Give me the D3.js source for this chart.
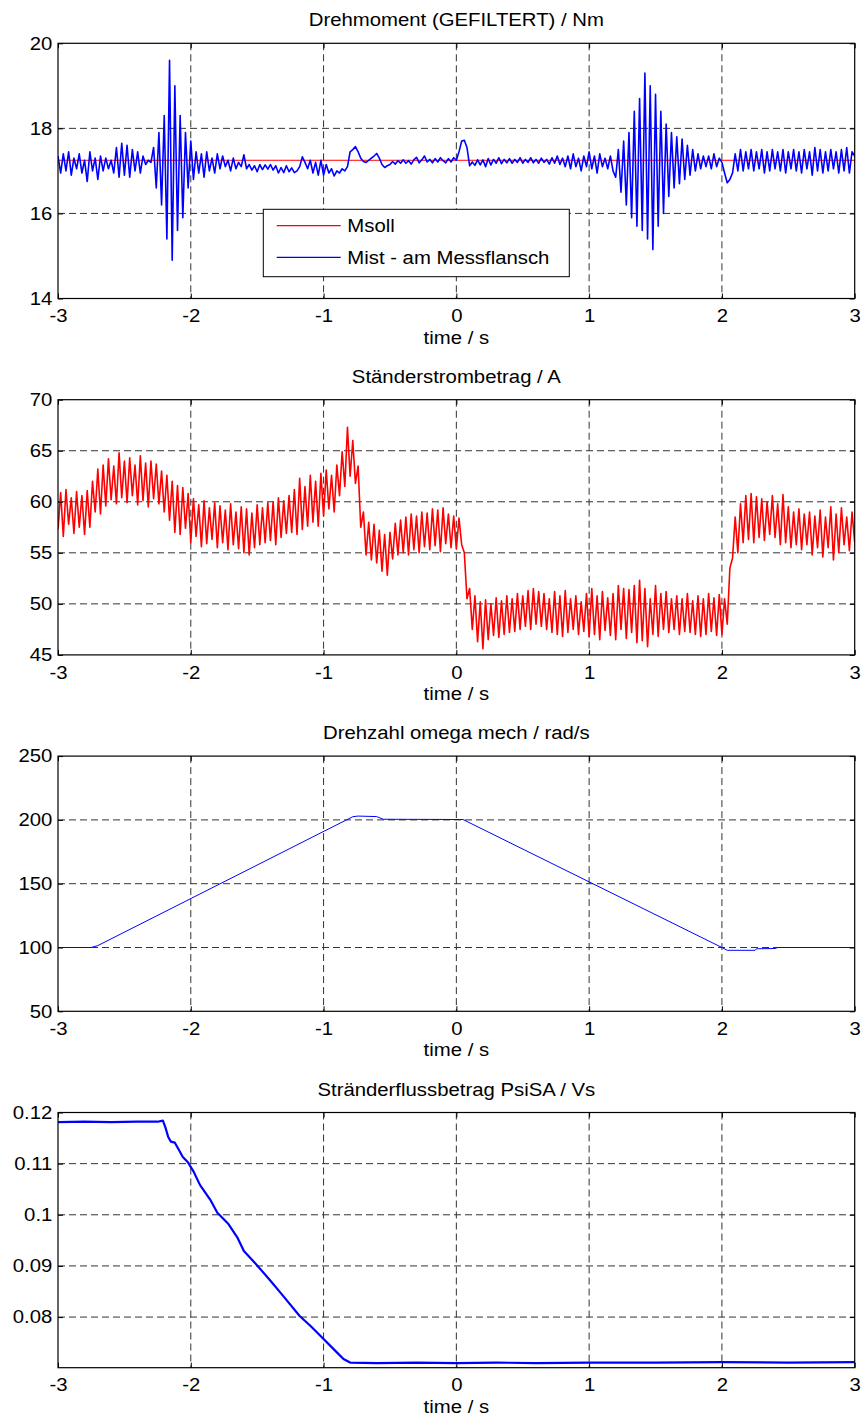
<!DOCTYPE html>
<html>
<head>
<meta charset="utf-8">
<script src="https://cdn.jsdelivr.net/npm/d3@7"></script>
<style>
  html, body { margin: 0; padding: 0; background: #fff; }
  svg { display: block; font-family: "Liberation Sans", Arial, Helvetica, sans-serif; }
</style>
</head>
<body>
<svg id="fig" width="864" height="1424"></svg>
<script>
// ---- recorded channels (sample interval 20 ms, starting at t = -3 s) ----
const tStart = -3;
const tStep = 0.02;
const timeTicks = [-3, -2, -1, 0, 1, 2, 3];

// torque set point (Msoll) / Nm
const torqueSetpoint = 17.25;

// measured torque at the flange (Mist) / Nm, one row = 0.2 s
const torqueMeasured = [
  17.35, 16.95, 17.40, 17.00, 17.45, 16.90, 17.30, 17.05, 17.40, 16.95,
  17.25, 16.75, 17.45, 17.00, 17.30, 16.80, 17.35, 17.00, 17.30, 17.05,
  17.25, 16.95, 17.55, 16.85, 17.65, 16.90, 17.60, 16.85, 17.50, 17.00,
  17.45, 16.95, 17.35, 17.15, 17.25, 17.20, 17.55, 16.60, 17.90, 16.20,
  18.30, 15.40, 19.60, 14.90, 19.00, 15.60, 18.30, 15.90, 17.90, 16.60,
  17.70, 16.80, 17.45, 16.95, 17.40, 16.85, 17.45, 17.00, 17.30, 16.95,
  17.40, 17.05, 17.35, 17.10, 17.25, 17.00, 17.30, 17.05, 17.20, 17.10,
  17.38, 17.05, 17.15, 17.02, 17.12, 16.98, 17.15, 17.03, 17.14, 17.04,
  17.15, 17.02, 17.12, 16.95, 17.08, 16.96, 17.12, 16.98, 17.07, 16.96,
  17.00, 17.10, 17.33, 17.20, 17.05, 17.25, 16.95, 17.20, 16.90, 17.25,
  16.90, 17.15, 16.95, 17.05, 16.88, 17.00, 16.95, 17.05, 17.00, 17.10,
  17.45, 17.50, 17.57, 17.45, 17.30, 17.22, 17.20, 17.25, 17.30, 17.35,
  17.41, 17.30, 17.15, 17.08, 17.12, 17.15, 17.22, 17.16, 17.24, 17.18,
  17.26, 17.18, 17.24, 17.16, 17.26, 17.32, 17.19, 17.26, 17.35, 17.21,
  17.27, 17.19, 17.29, 17.21, 17.31, 17.24, 17.19, 17.29, 17.21, 17.31,
  17.25, 17.45, 17.70, 17.72, 17.55, 17.12, 17.21, 17.13, 17.26, 17.14,
  17.26, 17.10, 17.29, 17.14, 17.27, 17.18, 17.31, 17.17, 17.27, 17.19,
  17.29, 17.18, 17.27, 17.20, 17.31, 17.18, 17.27, 17.20, 17.31, 17.19,
  17.27, 17.18, 17.30, 17.20, 17.27, 17.16, 17.31, 17.18, 17.35, 17.15,
  17.30, 17.10, 17.35, 17.05, 17.40, 17.10, 17.30, 17.00, 17.35, 17.10,
  17.45, 17.05, 17.35, 16.95, 17.40, 17.10, 17.30, 17.05, 17.35, 17.00,
  16.85, 17.50, 16.50, 17.70, 16.20, 17.90, 15.90, 18.40, 15.70, 18.70,
  15.60, 19.30, 15.40, 19.00, 15.15, 18.80, 15.70, 18.40, 16.00, 18.10,
  16.40, 17.90, 16.60, 17.80, 16.70, 17.75, 16.80, 17.60, 16.90, 17.50,
  17.00, 17.40, 17.05, 17.35, 17.10, 17.35, 17.05, 17.40, 17.10, 17.30,
  17.20, 16.95, 16.72, 16.80, 16.95, 17.40, 17.00, 17.50, 17.00, 17.45,
  17.05, 17.50, 17.00, 17.45, 17.05, 17.50, 16.95, 17.45, 17.00, 17.50,
  17.05, 17.45, 17.00, 17.50, 16.95, 17.45, 17.05, 17.50, 17.00, 17.45,
  16.95, 17.50, 17.05, 17.45, 16.90, 17.55, 17.00, 17.50, 16.95, 17.45,
  17.00, 17.50, 17.05, 17.45, 16.95, 17.50, 17.00, 17.55, 16.95, 17.45,
  17.35
];

// stator current magnitude / A, one row = 0.2 s
const statorCurrent = [
  57.3, 60.9, 56.6, 61.2, 57.8, 60.4, 56.9, 61.0, 57.5, 60.6,
  56.8, 61.1, 57.5, 62.0, 59.0, 63.2, 58.8, 63.6, 59.6, 64.2,
  60.2, 63.5, 59.8, 64.8, 60.4, 64.0, 59.9, 64.3, 60.6, 63.6,
  59.7, 64.5, 60.1, 63.8, 59.5, 64.0, 60.3, 63.7, 59.8, 63.0,
  59.0, 62.6, 58.2, 62.0, 57.0, 61.6, 56.8, 61.4, 57.4, 60.8,
  56.0, 60.3, 56.6, 59.7, 55.6, 60.1, 55.9, 59.4, 56.3, 59.9,
  55.5, 59.6, 56.0, 59.2, 55.3, 59.8, 55.8, 59.0, 55.4, 59.5,
  55.0, 59.3, 54.8, 58.9, 55.5, 59.7, 55.8, 59.4, 56.0, 59.9,
  56.2, 60.0, 55.8, 60.4, 56.5, 60.1, 56.9, 60.6, 57.0, 61.2,
  56.8, 62.3, 57.3, 61.5, 57.6, 62.6, 58.0, 62.0, 57.6, 62.8,
  58.6, 63.1, 59.3, 62.6, 59.0, 63.6, 60.6, 64.9, 61.5, 67.3,
  62.5, 66.0, 61.8, 63.5, 57.5, 59.0, 54.8, 58.0, 54.3, 57.8,
  54.0, 57.2, 53.2, 56.8, 52.8, 57.0, 54.4, 57.9, 54.8, 58.2,
  55.0, 58.5, 54.8, 58.8, 55.3, 58.6, 55.0, 59.0, 55.6, 58.9,
  55.3, 59.3, 55.7, 59.2, 55.1, 59.4, 55.9, 58.8, 55.5, 58.6,
  55.4, 58.4, 55.8, 55.0, 50.5, 51.5, 47.5, 50.8, 46.3, 50.2,
  45.6, 50.4, 46.5, 50.0, 46.9, 50.6, 46.7, 50.3, 47.0, 50.8,
  47.2, 50.5, 47.3, 51.0, 47.5, 50.8, 47.8, 51.3, 47.5, 51.5,
  48.0, 51.2, 47.8, 51.0, 47.5, 50.5, 47.2, 51.2, 47.0, 50.8,
  46.8, 51.3, 47.2, 50.5, 47.5, 50.8, 47.0, 50.2, 47.3, 51.0,
  46.8, 51.5, 47.0, 50.8, 46.5, 51.2, 47.4, 50.6, 46.9, 51.0,
  46.5, 51.8, 47.5, 51.5, 46.6, 51.4, 47.2, 51.8, 46.2, 52.3,
  46.4, 51.5, 45.8, 50.5, 47.0, 51.8, 46.8, 51.0, 47.5, 51.2,
  47.2, 50.5, 47.5, 50.8, 47.0, 50.5, 47.3, 51.0, 47.2, 50.3,
  47.0, 50.8, 46.8, 50.5, 47.0, 51.0, 47.3, 50.6, 46.9, 50.9,
  47.0, 50.5, 48.0, 53.5, 54.5, 58.5, 55.0, 59.8, 56.0, 60.6,
  56.3, 60.8, 56.0, 60.5, 56.5, 60.3, 56.2, 60.0, 56.8, 60.6,
  56.5, 59.8, 55.8, 60.7, 56.0, 59.5, 55.5, 59.0, 55.8, 59.3,
  55.3, 58.8, 55.8, 59.0, 54.8, 58.6, 55.5, 59.2, 54.6, 58.5,
  55.5, 59.5, 54.3, 58.8, 55.0, 59.4, 55.8, 58.5, 55.2, 59.0,
  56.0
];

// mechanical speed omega / rad/s (breakpoints)
const speedTime  = [-3, -2.75, -2.7, -0.78, -0.74, -0.6, -0.55, 0.05, 2.0, 2.04, 2.25, 2.26, 2.4, 2.42, 3];
const speedValue = [100, 100, 101.5, 202.5, 203, 202.6, 200.5, 200.3, 100, 97.8, 97.8, 99, 99.2, 100, 100];

// stator flux magnitude PsiSA / Vs (breakpoints)
const fluxTime = [
  -3.0, -2.8, -2.6, -2.4, -2.25, -2.21, -2.19, -2.17, -2.15, -2.12,
  -2.09, -2.06, -2.02, -1.98, -1.93, -1.85, -1.8, -1.72, -1.65, -1.6,
  -1.5, -1.4, -1.3, -1.18, -1.1, -1.0, -0.9, -0.85, -0.8, -0.6,
  -0.3, 0, 0.3, 0.6, 1.0, 1.5, 2.0, 2.5, 3.0
];
const fluxValue = [
  0.1181, 0.1182, 0.1181, 0.1182, 0.1182, 0.1184, 0.1170, 0.1152, 0.1143, 0.1141,
  0.1127, 0.1113, 0.1102, 0.1085, 0.1058, 0.1028, 0.1004, 0.0983, 0.0956, 0.0929,
  0.0901, 0.0871, 0.0840, 0.0802, 0.0783, 0.0757, 0.0731, 0.0718, 0.0711, 0.0710,
  0.0711, 0.0710, 0.0711, 0.0710, 0.0711, 0.0711, 0.0712, 0.0711, 0.0712
];

// axis ticks
const torqueTicks  = [14, 16, 18, 20];
const currentTicks = [45, 50, 55, 60, 65, 70];
const speedTicks   = [50, 100, 150, 200, 250];
const fluxTicks    = [0.08, 0.09, 0.1, 0.11, 0.12];

const legendLabels = ["Msoll", "Mist - am Messflansch"];

// ---- build point lists ----
const sampled = arr => arr.map((v, i) => ({ t: tStart + i * tStep, v }));
const paired = (ts, vs) => ts.map((t, i) => ({ t, v: vs[i] }));

const panels = [
  {
    title: "Drehmoment (GEFILTERT) / Nm",
    domain: [14, 20], ticks: torqueTicks,
    series: [
      { data: [{ t: -3, v: torqueSetpoint }, { t: 3, v: torqueSetpoint }], color: "#ff0000", width: 1 },
      { data: sampled(torqueMeasured), color: "#0000ff", width: 1.6 }
    ],
    legend: true
  },
  {
    title: "Ständerstrombetrag / A",
    domain: [45, 70], ticks: currentTicks,
    series: [{ data: sampled(statorCurrent), color: "#ff0000", width: 1.6 }]
  },
  {
    title: "Drehzahl omega mech / rad/s",
    domain: [50, 250], ticks: speedTicks,
    series: [{ data: paired(speedTime, speedValue), color: "#0000ff", width: 1 }]
  },
  {
    title: "Stränderflussbetrag PsiSA / Vs",
    domain: [0.0701, 0.12], ticks: fluxTicks,
    series: [{ data: paired(fluxTime, fluxValue), color: "#0000ff", width: 2.2 }]
  }
];

// ---- layout ----
const svg = d3.select("#fig");
const plotLeft = 58, plotRight = 854.7;
const firstTop = 43.3, panelPitch = 356.4, plotHeight = 255.2;
const fontSize = 18, stretch = 1.13;   // glyphs are slightly widened horizontally

const x = d3.scaleLinear().domain([-3, 3]).range([plotLeft, plotRight]);

function label(g, px, py, str, anchor) {
  return g.append("text")
    .attr("transform", `translate(${px},${py}) scale(${stretch},1)`)
    .attr("text-anchor", anchor)
    .attr("font-size", fontSize)
    .attr("fill", "#000")
    .text(str);
}

function styleAxis(sel) {
  sel.attr("font-size", fontSize)
     .attr("font-family", '"Liberation Sans", Arial, Helvetica, sans-serif');
  sel.select(".domain").remove();
  sel.selectAll(".tick line").attr("stroke", "#000").attr("stroke-width", 1);
  sel.selectAll(".tick text").attr("fill", "#000");
}

panels.forEach((p, k) => {
  const top = firstTop + k * panelPitch;
  const bottom = top + plotHeight;
  const y = d3.scaleLinear().domain(p.domain).range([bottom, top]);
  const g = svg.append("g");

  g.append("rect").attr("x", plotLeft).attr("y", top)
    .attr("width", plotRight - plotLeft).attr("height", plotHeight)
    .attr("fill", "#fff");

  // dashed grid
  const grid = g.append("g").attr("stroke", "#333").attr("stroke-width", 1)
    .attr("stroke-dasharray", "7,4");
  grid.selectAll("line.v").data(timeTicks.filter(d => d > -3 && d < 3)).join("line")
    .attr("class", "v")
    .attr("x1", d => x(d)).attr("x2", d => x(d))
    .attr("y1", top).attr("y2", bottom);
  grid.selectAll("line.h").data(p.ticks.filter(d => y(d) > top + 1 && y(d) < bottom - 1)).join("line")
    .attr("class", "h")
    .attr("x1", plotLeft).attr("x2", plotRight)
    .attr("y1", d => y(d)).attr("y2", d => y(d));

  // data
  const clipId = "clip" + k;
  svg.append("clipPath").attr("id", clipId).append("rect")
    .attr("x", plotLeft).attr("y", top)
    .attr("width", plotRight - plotLeft).attr("height", plotHeight);
  const line = d3.line().x(d => x(d.t)).y(d => y(d.v));
  const dataG = g.append("g").attr("clip-path", `url(#${clipId})`);
  p.series.forEach(s => {
    dataG.append("path").datum(s.data)
      .attr("d", line)
      .attr("fill", "none")
      .attr("stroke", s.color)
      .attr("stroke-width", s.width)
      .attr("stroke-linejoin", "round");
  });

  // axes with inward ticks on all four sides
  const bottomAxis = g.append("g").attr("transform", `translate(0,${bottom})`)
    .call(d3.axisBottom(x).tickValues(timeTicks).tickSizeInner(-5).tickSizeOuter(0)
      .tickPadding(11).tickFormat(d => String(d)));
  styleAxis(bottomAxis);
  bottomAxis.selectAll(".tick text").attr("transform", `scale(${stretch},1)`);

  const topAxis = g.append("g").attr("transform", `translate(0,${top})`)
    .call(d3.axisTop(x).tickValues(timeTicks).tickSizeInner(-5).tickSizeOuter(0).tickFormat(""));
  styleAxis(topAxis);

  const leftAxis = g.append("g").attr("transform", `translate(${plotLeft},0)`)
    .call(d3.axisLeft(y).tickValues(p.ticks).tickSizeInner(-5).tickSizeOuter(0)
      .tickPadding(5).tickFormat(d => String(d)));
  styleAxis(leftAxis);
  leftAxis.selectAll(".tick text").attr("transform", `scale(${stretch},1)`);

  const rightAxis = g.append("g").attr("transform", `translate(${plotRight},0)`)
    .call(d3.axisRight(y).tickValues(p.ticks).tickSizeInner(-5).tickSizeOuter(0).tickFormat(""));
  styleAxis(rightAxis);

  // frame
  g.append("rect").attr("x", plotLeft).attr("y", top)
    .attr("width", plotRight - plotLeft).attr("height", plotHeight)
    .attr("fill", "none").attr("stroke", "#000").attr("stroke-width", 1.2);

  // title and axis label
  label(g, (plotLeft + plotRight) / 2, top - 17, p.title, "middle");
  label(g, (plotLeft + plotRight) / 2, bottom + 45, "time / s", "middle");

  // legend
  if (p.legend) {
    const lg = g.append("g");
    const bx = 263.3, by = top + 166, bw = 306, bh = 67.4;
    lg.append("rect").attr("x", bx).attr("y", by).attr("width", bw).attr("height", bh)
      .attr("fill", "#fff").attr("stroke", "#000").attr("stroke-width", 1);
    legendLabels.forEach((name, i) => {
      const ly = by + 16.4 + i * 31.6;
      lg.append("line").attr("x1", bx + 13.4).attr("x2", bx + 77.4)
        .attr("y1", ly).attr("y2", ly)
        .attr("stroke", p.series[i].color).attr("stroke-width", 1.2);
      label(lg, bx + 84, ly + 6.5, name, "start");
    });
  }
});
</script>
</body>
</html>
